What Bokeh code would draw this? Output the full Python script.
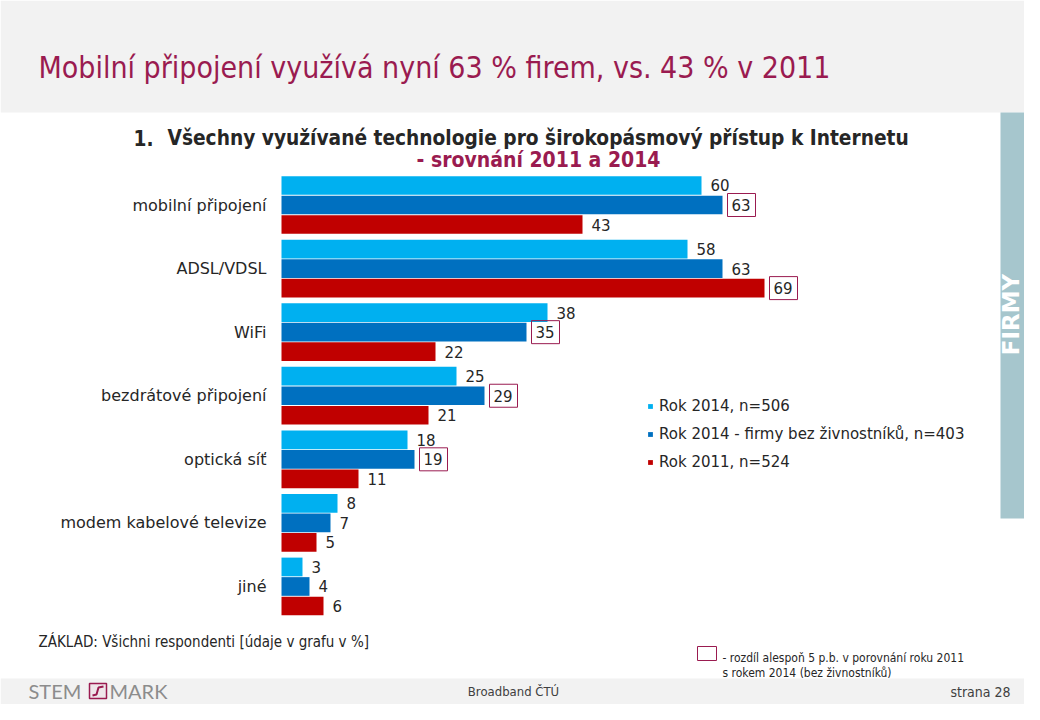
from bokeh.plotting import figure
from bokeh.models import Range1d, ColumnDataSource, Legend, LegendItem, CDSView, BooleanFilter
from bokeh.transform import dodge
from bokeh.core.properties import value
from bokeh.embed import file_html
from bokeh.resources import INLINE
import math

# ---------------- data ----------------
categories = ["mobilní připojení", "ADSL/VDSL", "WiFi", "bezdrátové připojení",
              "optická síť", "modem kabelové televize", "jiné"]
rok2014 = [60, 58, 38, 25, 18, 8, 3]
rok2014_bez = [63, 63, 35, 29, 19, 7, 4]
rok2011 = [43, 69, 22, 21, 11, 5, 6]
# difference of at least 5 p.b. (boxed labels)
hl_2014_bez = [True, False, True, True, True, False, False]
hl_2011 = [False, True, False, False, False, False, False]
series_labels = ["Rok 2014, n=506", "Rok 2014 - firmy bez živnostníků, n=403", "Rok 2011, n=524"]

title_text = "Mobilní připojení využívá nyní 63 % firem, vs. 43 % v 2011"
subtitle_num = "1."
subtitle_1 = "Všechny využívané technologie pro širokopásmový přístup k Internetu"
subtitle_2 = "- srovnání 2011 a 2014"
base_text = "ZÁKLAD:  Všichni respondenti [údaje v grafu v %]"
note_1 = "- rozdíl alespoň 5 p.b. v porovnání roku 2011"
note_2 = "s rokem 2014 (bez živnostníků)"
side_text = "FIRMY"
footer_mid = "Broadband ČTÚ"
footer_right = "strana 28"

# ---------------- style ----------------
C_LIGHT, C_BLUE, C_RED = "#00B0F0", "#0070C0", "#C00000"
MAROON = "#9A1B50"
TXT = "#262626"
GRAY_BG = "#F2F2F2"
SIDE = "#A6C6CD"
COND = value("DejaVu Sans Condensed, DejaVu Sans, sans-serif")
SANS = value("DejaVu Sans")

W, H = 1024, 704
p = figure(width=W, height=H, output_backend="svg", toolbar_location=None,
           x_range=Range1d(-281 / 7.0, (W - 281) / 7.0),
           y_range=Range1d((H - 204.5) / 63.58, -204.5 / 63.58),
           x_axis_type=None, y_axis_type=None, min_border=0,
           outline_line_color=None, background_fill_color="white",
           border_fill_color="white")
p.extra_x_ranges = {"px": Range1d(0, W)}
p.extra_y_ranges = {"py": Range1d(H, 0)}
PX = dict(x_range_name="px", y_range_name="py")

# ---------------- page decorations ----------------
p.quad(left=[0], right=[W], top=[0], bottom=[112], fill_color=GRAY_BG, line_color=None, **PX)
p.quad(left=[0], right=[W], top=[678], bottom=[H], fill_color=GRAY_BG, line_color=None, **PX)
p.quad(left=[1000], right=[W], top=[112], bottom=[518], fill_color=SIDE, line_color=None, **PX)

p.text(x=[38], y=[67], text=[title_text], text_font=COND, text_font_size="30px",
       text_color=MAROON, text_baseline="alphabetic", **PX)
p.text(x=[133], y=[137], text=[subtitle_num], text_font=COND, text_font_size="20.7px",
       text_font_style="bold", text_color=TXT, text_baseline="alphabetic", **PX)
p.text(x=[167], y=[137], text=[subtitle_1], text_font=COND, text_font_size="20.7px",
       text_font_style="bold", text_color=TXT, text_baseline="alphabetic", **PX)
p.text(x=[538], y=[159], text=[subtitle_2], text_font=COND, text_font_size="21px",
       text_font_style="bold", text_color=MAROON, text_align="center", text_baseline="alphabetic", **PX)
p.text(x=[1010], y=[314], text=[side_text], angle=math.pi / 2, text_font=SANS, text_font_size="23px",
       text_font_style="bold", text_color="white", text_align="center", text_baseline="middle", **PX)

p.text(x=[38], y=[641], text=[base_text], text_font=COND, text_font_size="15px",
       text_color=TXT, text_baseline="alphabetic", **PX)
p.quad(left=[697], right=[716], top=[646], bottom=[660], fill_color="white",
       line_color=MAROON, line_width=1, **PX)
p.text(x=[722], y=[657], text=[note_1], text_font=COND, text_font_size="12px",
       text_color=TXT, text_baseline="alphabetic", **PX)
p.text(x=[722], y=[672], text=[note_2], text_font=COND, text_font_size="12px",
       text_color=TXT, text_baseline="alphabetic", **PX)

# footer
p.text(x=[28], y=[690], text=["STEM"], text_font=value("Lato"), text_font_size="20px",
       text_color="#8C8C8C", text_baseline="middle", **PX)
p.quad(left=[89], right=[106], top=[683], bottom=[698], fill_color="#EFE6EA",
       line_color=MAROON, line_width=1.5, **PX)
p.line(x=[92, 96, 98, 103], y=[695, 694, 687, 686], line_color=MAROON, line_width=2, **PX)
p.text(x=[109], y=[690], text=["MARK"], text_font=value("Lato"), text_font_size="20px",
       text_color="#8C8C8C", text_baseline="middle", **PX)
p.text(x=[513], y=[691], text=[footer_mid], text_font=COND, text_font_size="13px",
       text_color="#404040", text_align="center", text_baseline="middle", **PX)
p.text(x=[1010], y=[691], text=[footer_right], text_font=COND, text_font_size="14px",
       text_color="#404040", text_align="right", text_baseline="middle", **PX)

# ---------------- chart ----------------
src = ColumnDataSource(dict(
    idx=list(range(len(categories))), cat=categories,
    a=rok2014, b=rok2014_bez, c=rok2011,
    a_l=[str(v) for v in rok2014], b_l=[str(v) for v in rok2014_bez], c_l=[str(v) for v in rok2011],
))

OFF = 0.307
BH = 0.294
renderers = []
for col, off, color in [("a", -OFF, C_LIGHT), ("b", 0.0, C_BLUE), ("c", OFF, C_RED)]:
    r = p.hbar(y=dodge("idx", off), left=0, right=col, height=BH, fill_color=color,
               line_color=None, source=src)
    renderers.append(r)
    p.text(x=col, y=dodge("idx", off), text=col + "_l", x_offset=9, text_baseline="middle",
           text_font=SANS, text_font_size="15px", text_color=TXT, source=src)

# highlight boxes
for col, off, flags in [("b", 0.0, hl_2014_bez), ("c", OFF, hl_2011)]:
    p.rect(x=dodge(col, 19 / 7.0), y=dodge("idx", off), width=28, height=23,
           width_units="screen", height_units="screen", fill_color=None,
           line_color=MAROON, line_width=1, source=src,
           view=CDSView(filter=BooleanFilter(flags)))

# category labels
p.text(x=0, y="idx", text="cat", x_offset=-15, text_align="right", text_baseline="middle",
       text_font=SANS, text_font_size="16px", text_color=TXT, source=src)

legend = Legend(items=[LegendItem(label=lab, renderers=[r]) for lab, r in zip(series_labels, renderers)],
                location=(647, 232), orientation="vertical", glyph_width=6, glyph_height=6,
                label_height=20, spacing=8, padding=0, margin=0, label_standoff=6,
                border_line_color=None, background_fill_alpha=0,
                label_text_font="DejaVu Sans", label_text_font_size="15px",
                label_text_color=TXT)
p.add_layout(legend)

open("out.html", "w").write(file_html(p, INLINE))
